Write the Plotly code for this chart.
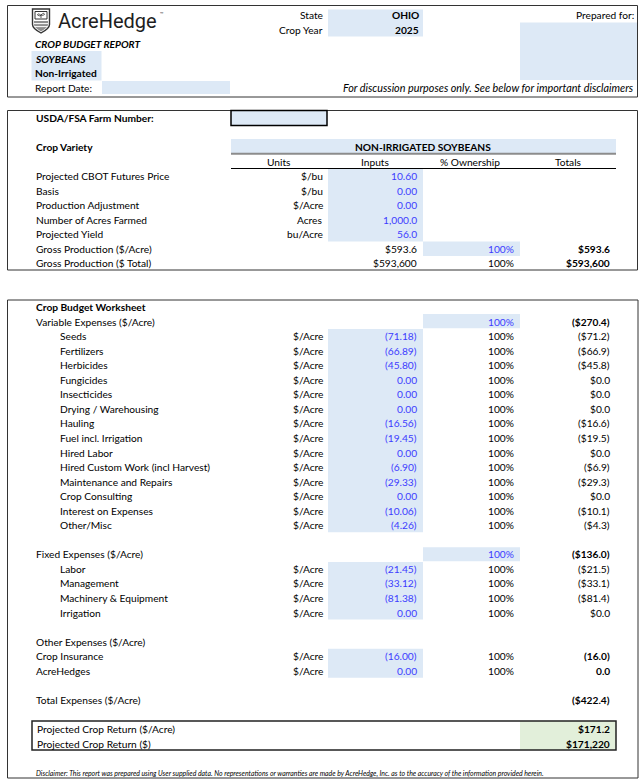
import plotly.graph_objects as go

# ---- report values ----
state = "OHIO"
crop_year = "2025"
crop_name = "SOYBEANS"
practice = "Non-Irrigated"
crop_variety = "NON-IRRIGATED SOYBEANS"

column_headers = ["Units", "Inputs", "% Ownership", "Totals"]

input_labels = ["Projected CBOT Futures Price", "Basis", "Production Adjustment",
                "Number of Acres Farmed", "Projected Yield"]
input_units = ["$/bu", "$/bu", "$/Acre", "Acres", "bu/Acre"]
input_values = [10.60, 0.00, 0.00, 1000.0, 56.0]
input_decimals = [2, 2, 2, 1, 1]

gross_per_acre = 593.6
gross_total = 593600
gross_ownership = [100, 100]

variable_items = ["Seeds", "Fertilizers", "Herbicides", "Fungicides", "Insecticides",
                  "Drying / Warehousing", "Hauling", "Fuel incl. Irrigation", "Hired Labor",
                  "Hired Custom Work (incl Harvest)", "Maintenance and Repairs",
                  "Crop Consulting", "Interest on Expenses", "Other/Misc"]
variable_inputs = [-71.18, -66.89, -45.80, 0.00, 0.00, 0.00, -16.56, -19.45, 0.00,
                   -6.90, -29.33, 0.00, -10.06, -4.26]
variable_ownership = [100, 100, 100, 100, 100, 100, 100, 100, 100, 100, 100, 100, 100, 100]
variable_totals = [-71.2, -66.9, -45.8, 0.0, 0.0, 0.0, -16.6, -19.5, 0.0, -6.9, -29.3,
                   0.0, -10.1, -4.3]
variable_subtotal = -270.4

fixed_items = ["Labor", "Management", "Machinery & Equipment", "Irrigation"]
fixed_inputs = [-21.45, -33.12, -81.38, 0.00]
fixed_ownership = [100, 100, 100, 100]
fixed_totals = [-21.5, -33.1, -81.4, 0.0]
fixed_subtotal = -136.0

other_items = ["Crop Insurance", "AcreHedges"]
other_inputs = [-16.00, 0.00]
other_ownership = [100, 100]
other_totals = [-16.0, 0.0]

total_expenses = -422.4
return_per_acre = 171.2
return_total = 171220

disclaimer = ("Disclaimer: This report was prepared using User supplied data. No representations "
              "or warranties are made by AcreHedge, Inc. as to the accuracy of the information "
              "provided herein.")

# ---- styling ----
FONT = "Lato, Carlito, sans-serif"
FS = 10.2
BLACK = "#000000"
BLUE_TXT = "#3c3cff"
BLUE_FILL = "#dde9f6"
GREEN_FILL = "#e2efda"
BORDER = "#333333"

# column positions (px)
X_LABEL = 34
X_INDENT = 58
X_UNITS = 325
X_INPUTS = 419
X_OWN = 516
X_TOTAL = 612
INPUT_CELL = (328, 423)
OWN_CELL = (423, 520)


def fmt_input(v, d=2):
    s = f"{abs(v):,.{d}f}"
    return f"({s})" if v < 0 else s


def fmt_money(v, d=1, sign="$"):
    s = f"{sign}{abs(v):,.{d}f}"
    return f"({s})" if v < 0 else s


annotations = []
shapes = []


def txt(x, y, s, anchor="left", size=FS, color=BLACK, bold=False, italic=False, family=FONT):
    if bold:
        s = f"<b>{s}</b>"
    if italic:
        s = f"<i>{s}</i>"
    annotations.append(dict(x=x, y=y, xref="x", yref="y", text=s, showarrow=False,
                            xanchor=anchor, yanchor="middle",
                            font=dict(family=family, size=size, color=color)))


def cell(x0, x1, y0, y1, fill=BLUE_FILL, line=None, lw=0):
    shapes.append(dict(type="rect", xref="x", yref="y", x0=x0, x1=x1, y0=y0, y1=y1,
                       fillcolor=fill, line=dict(color=line or fill, width=lw),
                       layer="below"))


def hline(x0, x1, y, color=BLACK, width=1):
    shapes.append(dict(type="line", xref="x", yref="y", x0=x0, x1=x1, y0=y, y1=y,
                       line=dict(color=color, width=width)))


def box(x0, x1, y0, y1, color=BORDER, width=1):
    shapes.append(dict(type="rect", xref="x", yref="y", x0=x0, x1=x1, y0=y0, y1=y1,
                       line=dict(color=color, width=width), fillcolor="rgba(0,0,0,0)"))


# ================= header block =================
def r1(i):
    return 15 + 14.5 * i


box(7.5, 637.5, 5.5, 97)

# logo: shield + word mark
shapes.append(dict(type="path", xref="x", yref="y",
                   path="M 32.5,9 L 49.5,9 L 49.5,24.5 Q 49.5,28.5 41,33 Q 32.5,28.5 32.5,24.5 Z",
                   line=dict(color="#333333", width=1.4), fillcolor="white"))
shapes.append(dict(type="path", xref="x", yref="y",
                   path="M 35,11.5 L 47,11.5 L 47,19 L 35,19 Z",
                   line=dict(color="#333333", width=1), fillcolor="white"))
shapes.append(dict(type="path", xref="x", yref="y",
                   path="M 41,18 L 41,14.5 M 41,15.5 Q 38,12.5 37.5,15 Q 39,16.5 41,15.5 "
                        "M 41,15 Q 44,12 44.5,14.5 Q 43,16 41,15",
                   line=dict(color="#333333", width=0.8)))
shapes.append(dict(type="path", xref="x", yref="y",
                   path="M 34,21 L 48,21 L 48,24.5 Q 48,27.5 41,31.5 Q 34,27.5 34,24.5 Z",
                   line=dict(color="#8a8a8a", width=0), fillcolor="#8f8f8f"))
hline(34, 48, 23.6, color="white", width=1)
hline(34.5, 47.5, 26.6, color="white", width=1)
txt(55.5, 20.5, "AcreHedge", size=20, color="#1e1e1e", family="Roboto, sans-serif")
txt(158, 13, "™", size=6, color="#333333", family="Roboto, sans-serif")

cell(328, 423, 9.5, 36.5)
txt(X_UNITS, r1(0), "State", anchor="right")
txt(X_UNITS, r1(1), "Crop Year", anchor="right")
txt(421, r1(0), state, anchor="right", bold=True)
txt(421, r1(1), crop_year, anchor="right", bold=True)

txt(636, r1(0), "Prepared for:", anchor="right")
cell(520, 637, 22.5, 80)

txt(X_LABEL - 1, r1(2), "CROP BUDGET REPORT", bold=True, italic=True)
cell(31.5, 101.5, 51, 80.5)
txt(X_LABEL - 1, r1(3), crop_name, bold=True, italic=True)
txt(X_LABEL - 1, r1(4), practice, bold=True)
txt(X_LABEL - 1, r1(5), "Report Date:")
cell(102, 230, 81, 94)
txt(636, r1(5), "For discussion purposes only. See below for important disclaimers",
    anchor="right", italic=True, size=10.8)


# ================= gross production block =================
def r2(i):
    return 118 + 14.5 * i


box(7.5, 637.5, 110.5, 270)
txt(X_LABEL, r2(0), "USDA/FSA Farm Number:", bold=True)
cell(231, 327, 110.5, 125.5)
box(231, 327, 110.5, 125.5, color=BLACK, width=1.5)

txt(X_LABEL, r2(2), "Crop Variety", bold=True)
cell(231, 616, 139, 153)
txt(423, r2(2), crop_variety, anchor="center", bold=True)
hline(231, 616, 153.8, color="#8c8c8c", width=2)
for cx, h in zip([279, 375, 470, 568], column_headers):
    txt(cx, r2(3), h, anchor="center")
hline(231, 616, 168.5)

cell(INPUT_CELL[0], INPUT_CELL[1], 169, 241.5)
for i, (lab, unit, val, d) in enumerate(zip(input_labels, input_units, input_values, input_decimals)):
    y = r2(4 + i)
    txt(X_LABEL, y, lab)
    txt(X_UNITS, y, unit, anchor="right")
    txt(X_INPUTS, y, fmt_input(val, d), anchor="right", color=BLUE_TXT)

cell(OWN_CELL[0], OWN_CELL[1], 241.5, 256)
txt(X_LABEL, r2(9), "Gross Production ($/Acre)")
txt(X_INPUTS, r2(9), fmt_money(gross_per_acre), anchor="right")
txt(X_OWN, r2(9), f"{gross_ownership[0]}%", anchor="right", color=BLUE_TXT)
txt(X_TOTAL, r2(9), fmt_money(gross_per_acre), anchor="right", bold=True)
txt(X_LABEL, r2(10), "Gross Production ($ Total)")
txt(X_INPUTS, r2(10), fmt_money(gross_total, 0), anchor="right")
txt(X_OWN, r2(10), f"{gross_ownership[1]}%", anchor="right")
txt(X_TOTAL, r2(10), fmt_money(gross_total, 0), anchor="right", bold=True)


# ================= worksheet block =================
def r3(i):
    return 307 + 14.55 * i


def expense_rows(start, items, inputs, owns, totals, indent=True, sign="$", bold=False):
    for k, (lab, v, o, t) in enumerate(zip(items, inputs, owns, totals)):
        y = r3(start + k)
        txt(X_INDENT if indent else X_LABEL, y, lab)
        txt(X_UNITS, y, "$/Acre", anchor="right")
        txt(X_INPUTS, y, fmt_input(v), anchor="right", color=BLUE_TXT)
        txt(X_OWN, y, f"{o}%", anchor="right")
        txt(X_TOTAL, y, fmt_money(t, sign=sign), anchor="right", bold=bold)


box(7.5, 638, 300, 778)
txt(X_LABEL, r3(0), "Crop Budget Worksheet", bold=True)

txt(X_LABEL, r3(1), "Variable Expenses ($/Acre)")
cell(OWN_CELL[0], OWN_CELL[1], r3(1) - 7.5, r3(1) + 6.8)
txt(X_OWN, r3(1), "100%", anchor="right", color=BLUE_TXT)
txt(X_TOTAL, r3(1), fmt_money(variable_subtotal), anchor="right", bold=True)
cell(INPUT_CELL[0], INPUT_CELL[1], r3(2) - 7, r3(15) + 7)
expense_rows(2, variable_items, variable_inputs, variable_ownership, variable_totals)

txt(X_LABEL, r3(17), "Fixed Expenses ($/Acre)")
cell(OWN_CELL[0], OWN_CELL[1], r3(17) - 7, r3(17) + 7)
txt(X_OWN, r3(17), "100%", anchor="right", color=BLUE_TXT)
txt(X_TOTAL, r3(17), fmt_money(fixed_subtotal), anchor="right", bold=True)
cell(INPUT_CELL[0], INPUT_CELL[1], r3(18) - 7, r3(21) + 7)
expense_rows(18, fixed_items, fixed_inputs, fixed_ownership, fixed_totals)

txt(X_LABEL, r3(23), "Other Expenses ($/Acre)")
cell(INPUT_CELL[0], INPUT_CELL[1], r3(24) - 7.5, r3(25) + 7)
expense_rows(24, other_items, other_inputs, other_ownership, other_totals,
             indent=False, sign="", bold=True)

txt(X_LABEL, r3(27), "Total Expenses ($/Acre)")
txt(X_TOTAL, r3(27), fmt_money(total_expenses), anchor="right", bold=True)

cell(520, 616, 721, 750, fill=GREEN_FILL)
box(32, 616, 721, 750, color="#222222", width=1.5)
txt(X_LABEL + 1, r3(29), "Projected Crop Return ($/Acre)")
txt(X_TOTAL, r3(29), fmt_money(return_per_acre), anchor="right", bold=True)
txt(X_LABEL + 1, r3(30), "Projected Crop Return ($)")
txt(X_TOTAL, r3(30), fmt_money(return_total, 0), anchor="right", bold=True)

txt(X_LABEL, 773, disclaimer, size=6.9, italic=True)

fig = go.Figure()
fig.update_layout(
    width=640, height=783, autosize=False,
    margin=dict(l=0, r=0, t=0, b=0),
    paper_bgcolor="white", plot_bgcolor="white",
    xaxis=dict(range=[0, 640], visible=False, fixedrange=True),
    yaxis=dict(range=[783, 0], visible=False, fixedrange=True),
    showlegend=False,
    shapes=shapes,
    annotations=annotations,
)
# drop the default page margin / scrollbars so the sheet fills the window exactly
page_fix = ("document.body.style.margin='0';"
            "document.body.style.overflow='hidden';"
            "document.documentElement.style.overflow='hidden';")
fig.write_html("out.html", config={"displayModeBar": False}, post_script=page_fix)
